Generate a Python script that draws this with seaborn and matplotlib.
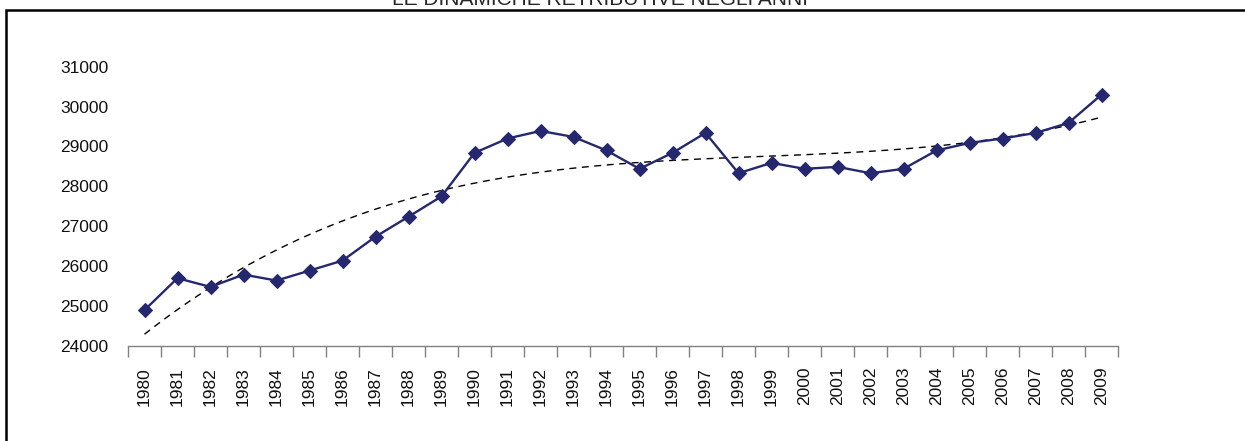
import numpy as np
import pandas as pd
import matplotlib
matplotlib.use("Agg")
import matplotlib.pyplot as plt
from matplotlib.patches import Rectangle
import seaborn as sns


# -----------------------
# Data
# -----------------------

years = list(range(1980, 2010))

salaries = [
    24900, 25700, 25480, 25790, 25640, 25890, 26140, 26740, 27240, 27750,
    28840, 29200, 29390, 29240, 28900, 28440, 28840, 29340, 28330, 28590,
    28440, 28490, 28330, 28440, 28900, 29090, 29200, 29340, 29590, 30300,
]

y_ticks = [24000, 25000, 26000, 27000, 28000, 29000, 30000, 31000]

title = "LE DINAMICHE RETRIBUTIVE NEGLI ANNI"

df = pd.DataFrame({
    "pos": np.arange(len(years)),
    "anno": years,
    "retribuzione": salaries,
})


# -----------------------
# Style
# -----------------------

sns.set_style("white")
plt.rcParams["font.family"] = ["Liberation Sans", "DejaVu Sans"]

W, H = 1245, 441
fig = plt.figure(figsize=(W / 100, H / 100), dpi=100)

ax = fig.add_axes([
    128 / W,
    1 - 346 / H,
    (1118 - 128) / W,
    (346 - 66.7) / H,
])


# -----------------------
# Series + polynomial trend
# -----------------------

sns.regplot(
    data=df,
    x="pos",
    y="retribuzione",
    order=3,
    ci=None,
    scatter=False,
    ax=ax,
    line_kws=dict(color="black", lw=1.0, ls=(0, (5, 4))),
)

sns.lineplot(
    data=df,
    x="pos",
    y="retribuzione",
    marker="D",
    markersize=7.5,
    color="#25286E",
    markeredgecolor="#25286E",
    lw=1.7,
    ax=ax,
)


# -----------------------
# Axes
# -----------------------

ax.set_xlim(-0.5, len(years) - 0.5)
ax.set_ylim(24000, 31000)

ax.set_xticks(np.arange(-0.5, len(years), 1))
ax.set_xticklabels([])
ax.set_xticks(np.arange(len(years)), minor=True)
ax.set_xticklabels([str(y) for y in years], minor=True, rotation=90)

ax.tick_params(axis="x", which="major", length=8, width=1,
               color="#808080", direction="out", bottom=True)
ax.tick_params(axis="x", which="minor", length=0, pad=15,
               labelsize=12.5, labelcolor="#111111")

ax.set_yticks(y_ticks)
ax.set_yticklabels([str(v) for v in y_ticks])
ax.tick_params(axis="y", length=0, pad=14, labelsize=12.5,
               labelcolor="#111111")

ax.set_xlabel("")
ax.set_ylabel("")

for side in ["top", "right", "left"]:
    ax.spines[side].set_visible(False)
ax.spines["bottom"].set_color("#808080")
ax.spines["bottom"].set_linewidth(1)


# -----------------------
# Title and outer frame
# -----------------------

fig.text(600 / W, 1 - 5 / H, title, ha="center", va="baseline",
         fontsize=15)

fig.patches.append(
    Rectangle(
        (6 / W, -0.2),
        1.2,
        0.2 + 1 - 10 / H,
        transform=fig.transFigure,
        fill=False,
        edgecolor="black",
        linewidth=1.8,
        clip_on=False,
    )
)

fig.savefig("out.png", dpi=100)
